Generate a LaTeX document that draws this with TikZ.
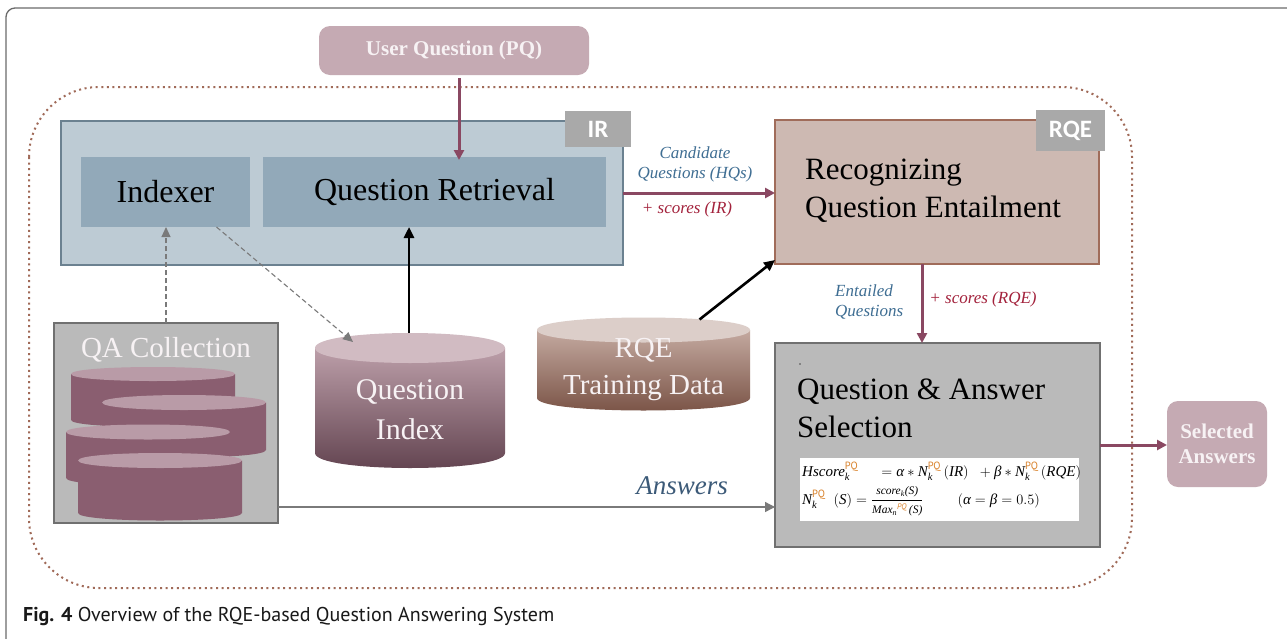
\documentclass[tikz,border=0pt]{standalone}
\usepackage{fontspec}
\usepackage{amsmath}
\setmainfont{Liberation Serif}
\newfontfamily\capfont{PT Sans}
\newfontfamily\tagfont{Carlito}
\usetikzlibrary{arrows.meta,calc}

\definecolor{framegray}{HTML}{6A6A6A}
\definecolor{dotbrown}{HTML}{A06A58}
\definecolor{uqfill}{HTML}{C5AAB3}
\definecolor{lighttext}{HTML}{F7F2F4}
\definecolor{mauvearrow}{HTML}{8A4862}
\definecolor{irfill}{HTML}{BDCBD4}
\definecolor{irdraw}{HTML}{6B8190}
\definecolor{irinner}{HTML}{92A9B9}
\definecolor{taggray}{HTML}{A9A9A9}
\definecolor{rqefill}{HTML}{CDB9B2}
\definecolor{rqedraw}{HTML}{A06C5A}
\definecolor{qafill}{HTML}{BABABA}
\definecolor{qadraw}{HTML}{707070}
\definecolor{cylbody}{HTML}{8A5E70}
\definecolor{cyltop}{HTML}{B99BA7}
\definecolor{labelblue}{HTML}{3F6E93}
\definecolor{labelred}{HTML}{A3223C}
\definecolor{answerblue}{HTML}{3C5A78}
\definecolor{arrowgray}{HTML}{7A7A7A}
\definecolor{pqorange}{HTML}{D9822B}

% italic text inside formulas
\newcommand\mi[1]{\text{\itshape #1}}
\newcommand\pqs{\text{\capfont\color{pqorange}PQ}}

% cylinder: cx, x radius, top centre y, bottom centre y, y radius, body style, top style
\newcommand\drawcyl[7]{%
  \path[#6] ({#1-#2},#3) -- ({#1-#2},#4)
    .. controls ({#1-#2},{#4+1.333*#5}) and ({#1+#2},{#4+1.333*#5}) .. ({#1+#2},#4)
    -- ({#1+#2},#3) -- cycle;
  \path[#7] ({#1-#2},#3)
    .. controls ({#1-#2},{#3-1.333*#5}) and ({#1+#2},{#3-1.333*#5}) .. ({#1+#2},#3)
    .. controls ({#1+#2},{#3+1.333*#5}) and ({#1-#2},{#3+1.333*#5}) .. ({#1-#2},#3) -- cycle;
}

\begin{document}
\begin{tikzpicture}[x=1pt,y=-1pt,
  box/.style={rectangle, inner sep=0pt, outer sep=0pt},
  tagbox/.style={box, fill=taggray, text=white, font=\tagfont\bfseries\fontsize{25}{28}\selectfont},
  innerbox/.style={box, fill=irinner, font=\fontsize{32}{36}\selectfont},
  bigtitle/.style={inner sep=0pt, align=left, font=\fontsize{31}{38}\selectfont},
  cyltext/.style={inner sep=0pt, align=center, text=lighttext},
  lightbtn/.style={box, rounded corners=11pt, fill=uqfill, text=lighttext, align=center},
  marrow/.style={draw=mauvearrow, line width=3pt, -{Triangle[length=10pt,width=10pt]}},
  blackarrow/.style={draw=black, line width=2.6pt, -{Triangle[length=11pt,width=10pt]}},
  dasharrow/.style={draw=arrowgray, line width=1.1pt, dash pattern=on 5pt off 3pt,
    -{Triangle[length=10pt,width=9pt]}},
  grayarrow/.style={draw=arrowgray, line width=1.3pt, -{Triangle[length=10pt,width=10pt]}},
  edgelabel/.style={inner sep=0pt, align=center, font=\itshape\fontsize{17}{20}\selectfont}
]
\useasboundingbox (0,0) rectangle (1287,638);
\fill[white] (0,0) rectangle (1287,638);

% page frame
\begin{scope}
  \clip (0,0) rectangle (1287,638);
  \draw[framegray, line width=1.3pt, rounded corners=9pt] (6,8) rectangle (1320,680);
\end{scope}

% system boundary
\draw[dotbrown, line width=2pt, dash pattern=on 2pt off 3.6pt, rounded corners=70pt]
  (29,87) rectangle (1132,588);

% user question
\node[lightbtn, minimum width=270pt, minimum height=49pt,
  font=\bfseries\fontsize{21}{24}\selectfont] (uq) at (454,50.5) {User Question (PQ)};

% IR block
\node[box, draw=irdraw, line width=1.8pt, fill=irfill, minimum width=562pt, minimum height=144pt]
  (ir) at (342,193) {};
\node[tagbox, minimum width=66pt, minimum height=36pt] (irtag) at (598,129) {IR};
\node[innerbox, minimum width=169pt, minimum height=70pt] (idx) at (165.5,192) {Indexer};
\node[innerbox, minimum width=343pt, minimum height=70pt] (qr) at (434.5,192) {Question Retrieval};

% RQE block
\node[box, draw=rqedraw, line width=1.2pt, fill=rqefill, minimum width=324pt, minimum height=144pt]
  (rqe) at (937,192) {};
\node[tagbox, minimum width=69pt, minimum height=41pt] (rqetag) at (1070.5,130.5) {RQE};
\node[bigtitle, anchor=north west] (rqetitle) at (805,159) {Recognizing\\Question Entailment};

% question & answer selection
\node[box, draw=qadraw, line width=1.2pt, fill=qafill, minimum width=325pt, minimum height=204pt]
  (qa) at (937.5,445) {};
\fill[black!70] (800,364) circle (0.8);
\node[bigtitle, anchor=north west] (qatitle) at (797,379) {Question \& Answer\\Selection};
\node[box, fill=white, minimum width=279pt, minimum height=63pt] (fml) at (939.5,489.5) {};
\node[inner sep=0pt, anchor=west, align=left, font=\fontsize{15}{28}\selectfont] (fmltext) at (802,489)
  {$\mi{Hscore}^{\pqs}_{\mi{k}}\quad\;=\mi{α}*\mi{N}^{\pqs}_{\mi{k}}\,(\mi{IR})\;\;+\mi{β}*\mi{N}^{\pqs}_{\mi{k}}\,(\mi{RQE})$\\
   $\mi{N}^{\pqs}_{\mi{k}}\;\;(\mi{S})=\dfrac{\text{\fontsize{11.5}{12}\selectfont\itshape score\textsubscript{k}(S)}}{\text{\fontsize{11.5}{12}\selectfont\itshape Max\textsubscript{n}\textsuperscript{\capfont\color{pqorange}PQ}\,(S)}}\qquad\;(\mi{α}=\mi{β}=0.5)$};

% selected answers
\node[lightbtn, minimum width=100pt, minimum height=86pt,
  font=\bfseries\fontsize{21}{25}\selectfont] (sel) at (1217,444) {Selected\\Answers};

% QA collection with its stack of stores
\node[box, draw=qadraw, line width=1.2pt, fill=qafill, minimum width=224pt, minimum height=200pt]
  (qac) at (166,423) {};
\node[inner sep=0pt, text=lighttext, font=\fontsize{29}{32}\selectfont, anchor=base] (qactitle)
  at (166,357) {QA Collection};
\drawcyl{153}{82}{374}{420}{7}{fill=cylbody}{fill=cyltop}
\drawcyl{184}{82}{402.5}{450}{7.5}{fill=cylbody}{fill=cyltop}
\drawcyl{148}{82}{432}{478}{7.5}{fill=cylbody}{fill=cyltop}
\drawcyl{160}{82}{460.5}{513}{7.5}{fill=cylbody}{fill=cyltop}

% question index store
\drawcyl{410}{95}{348}{453}{15}{top color=uqfill!85!cylbody, bottom color=cylbody!70!black}{fill=uqfill!80!white}
\node[box, minimum width=190pt, minimum height=135pt] (qidx) at (410,400.5) {};
\node[cyltext, font=\fontsize{30}{40}\selectfont] (qidxtext) at (410,410) {Question\\Index};

% RQE training data store
\drawcyl{643.5}{106.5}{330}{398}{12.5}{top color=rqefill!80!rqedraw, bottom color=rqedraw!75!black}{fill=rqefill!70!white}
\node[box, minimum width=213pt, minimum height=93pt] (rqed) at (643.5,364) {};
\node[cyltext, font=\fontsize{29}{37}\selectfont] (rqedtext) at (643.5,370) {RQE\\Training Data};

% connectors
\draw[marrow] ([xshift=5pt,yshift=-3pt]uq.south) -- ([xshift=5pt,yshift=-3pt]uq.south |- qr.north);
\draw[marrow] (ir.east) -- (ir.east -| rqe.west);
\draw[marrow] ([xshift=-15pt]rqe.south) -- ([xshift=-15pt]rqe.south |- qa.north);
\draw[marrow] (qa.east) -- (qa.east -| sel.west);
\draw[dasharrow] (qac.north) -- (qac.north |- idx.south);
\draw[dasharrow] ([xshift=51pt]idx.south) -- ([xshift=-57pt,yshift=-9pt]qidx.north);
\draw[blackarrow] ([xshift=-1pt]qidx.north) -- ([xshift=-1pt]qidx.north |- qr.south);
\draw[blackarrow] ([xshift=56pt,yshift=-2pt]rqed.north) -- ([yshift=4pt]rqe.south west);
\draw[grayarrow] ([yshift=-84pt]qac.east) -- ([yshift=-84pt]qac.east -| qa.west);

% connector labels
\node[edgelabel, text=labelblue] (candlab) at (695,164) {Candidate\\Questions (HQs)};
\node[edgelabel, text=labelred] (irscore) at (687,209) {+ scores (IR)};
\node[edgelabel, text=labelblue, align=left, anchor=west] (entlab) at (835,302) {Entailed\\Questions};
\node[edgelabel, text=labelred] (rqescore) at (983,299) {+ scores (RQE)};
\node[inner sep=0pt, text=answerblue, font=\itshape\fontsize{27}{30}\selectfont] (anslab) at (682,486) {Answers};

% caption
\node[inner sep=0pt, anchor=base west, text=black!90, font=\capfont\fontsize{20}{23}\selectfont]
  (caption) at (23,621) {\textbf{Fig. 4} Overview of the RQE-based Question Answering System};
\end{tikzpicture}
\end{document}
